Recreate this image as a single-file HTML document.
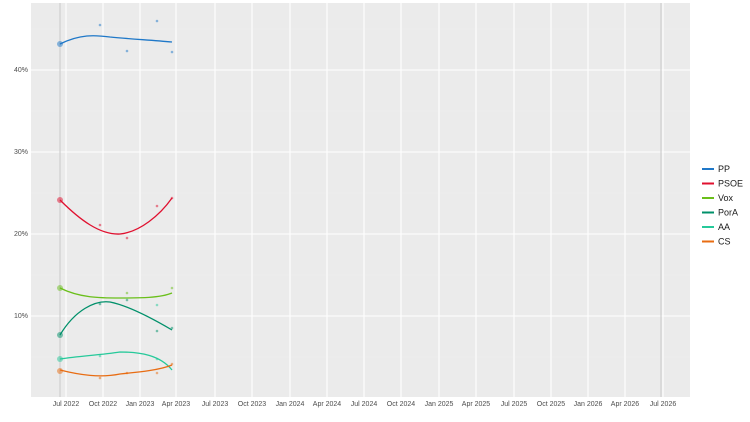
<!DOCTYPE html>
<html><head><style>
body{margin:0;background:#fff;width:750px;height:417px;overflow:hidden;font-family:"Liberation Sans",sans-serif}
</style></head><body>
<svg width="750" height="417" xmlns="http://www.w3.org/2000/svg" font-family="Liberation Sans, sans-serif">
<rect x="31" y="3" width="659" height="394" fill="#ebebeb"/>
<g stroke="#f2f2f2" stroke-width="0.6">
<line x1="31" x2="690" y1="111" y2="111"/><line x1="31" x2="690" y1="193" y2="193"/><line x1="31" x2="690" y1="275" y2="275"/><line x1="31" x2="690" y1="357" y2="357"/><line x1="31" x2="690" y1="29" y2="29"/>
</g>
<g stroke="#fff" stroke-width="1.1">
<line x1="31" x2="690" y1="70" y2="70"/><line x1="31" x2="690" y1="152" y2="152"/><line x1="31" x2="690" y1="234" y2="234"/><line x1="31" x2="690" y1="316" y2="316"/>
<line x1="66" x2="66" y1="3" y2="397"/><line x1="103" x2="103" y1="3" y2="397"/><line x1="140" x2="140" y1="3" y2="397"/><line x1="176" x2="176" y1="3" y2="397"/><line x1="215" x2="215" y1="3" y2="397"/><line x1="252" x2="252" y1="3" y2="397"/><line x1="290" x2="290" y1="3" y2="397"/><line x1="327" x2="327" y1="3" y2="397"/><line x1="364" x2="364" y1="3" y2="397"/><line x1="401" x2="401" y1="3" y2="397"/><line x1="439" x2="439" y1="3" y2="397"/><line x1="476" x2="476" y1="3" y2="397"/><line x1="514" x2="514" y1="3" y2="397"/><line x1="551" x2="551" y1="3" y2="397"/><line x1="588" x2="588" y1="3" y2="397"/><line x1="625" x2="625" y1="3" y2="397"/><line x1="663" x2="663" y1="3" y2="397"/>
</g>
<line x1="60" x2="60" y1="3" y2="397" stroke="#c8c8c8" stroke-width="1"/>
<line x1="661" x2="661" y1="3" y2="397" stroke="#c8c8c8" stroke-width="1"/>
<g font-size="7" fill="#4d4d4d" text-anchor="end">
<text x="28" y="72">40%</text><text x="28" y="154">30%</text><text x="28" y="236">20%</text><text x="28" y="318">10%</text>
</g>
<g font-size="7" fill="#4d4d4d" text-anchor="middle">
<text x="66" y="406">Jul 2022</text><text x="103" y="406">Oct 2022</text><text x="140" y="406">Jan 2023</text><text x="176" y="406">Apr 2023</text><text x="215" y="406">Jul 2023</text><text x="252" y="406">Oct 2023</text><text x="290" y="406">Jan 2024</text><text x="327" y="406">Apr 2024</text><text x="364" y="406">Jul 2024</text><text x="401" y="406">Oct 2024</text><text x="439" y="406">Jan 2025</text><text x="476" y="406">Apr 2025</text><text x="514" y="406">Jul 2025</text><text x="551" y="406">Oct 2025</text><text x="588" y="406">Jan 2026</text><text x="625" y="406">Apr 2026</text><text x="663" y="406">Jul 2026</text>
</g>
<g fill="none" stroke-width="1.3">
<path d="M60,44 C80,34 95,35 110,37 C130,39 150,40 172,42" stroke="#1f78c8"/>
<path d="M60,200 C80,220 100,235 120,234 C140,232 160,215 172,198" stroke="#e0102f"/>
<path d="M60,288 C80,298 100,298 120,298 C140,298 160,298 172,293" stroke="#6abf1a"/>
<path d="M60,335 C75,310 95,300 110,302 C130,306 155,320 172,330" stroke="#00906a"/>
<path d="M60,359 C80,356 100,355 120,352 C140,352 160,355 172,370" stroke="#26c99a"/>
<path d="M60,370 C80,375 100,378 120,374 C140,372 160,370 172,365" stroke="#e86c12"/>
</g>
<g opacity="0.5">
<circle cx="60" cy="44" r="3" fill="#1f78c8"/><circle cx="100" cy="25" r="1.3" fill="#1f78c8"/><circle cx="127" cy="51" r="1.3" fill="#1f78c8"/><circle cx="157" cy="21" r="1.3" fill="#1f78c8"/><circle cx="172" cy="52" r="1.3" fill="#1f78c8"/>
<circle cx="60" cy="200" r="3" fill="#e0102f"/><circle cx="100" cy="225" r="1.3" fill="#e0102f"/><circle cx="127" cy="238" r="1.3" fill="#e0102f"/><circle cx="157" cy="206" r="1.3" fill="#e0102f"/><circle cx="172" cy="198" r="1.3" fill="#e0102f"/>
<circle cx="60" cy="288" r="3" fill="#6abf1a"/><circle cx="127" cy="293" r="1.3" fill="#6abf1a"/><circle cx="172" cy="288" r="1.3" fill="#6abf1a"/>
<circle cx="60" cy="335" r="3" fill="#00906a"/><circle cx="100" cy="304" r="1.3" fill="#00906a"/><circle cx="127" cy="300" r="1.3" fill="#00906a"/><circle cx="157" cy="331" r="1.3" fill="#00906a"/><circle cx="172" cy="328" r="1.3" fill="#00906a"/>
<circle cx="60" cy="359" r="3" fill="#26c99a"/><circle cx="100" cy="356" r="1.3" fill="#26c99a"/><circle cx="157" cy="305" r="1.3" fill="#26c99a"/><circle cx="157" cy="359" r="1.3" fill="#26c99a"/>
<circle cx="60" cy="371" r="3" fill="#e86c12"/><circle cx="100" cy="378" r="1.3" fill="#e86c12"/><circle cx="127" cy="373" r="1.3" fill="#e86c12"/><circle cx="157" cy="373" r="1.3" fill="#e86c12"/><circle cx="172" cy="364" r="1.3" fill="#e86c12"/>
</g>
<g font-size="9" fill="#1a1a1a" stroke-width="2">
<line x1="702" x2="714" y1="169" y2="169" stroke="#1f78c8"/><text x="718" y="172">PP</text>
<line x1="702" x2="714" y1="183.5" y2="183.5" stroke="#e0102f"/><text x="718" y="186.5">PSOE</text>
<line x1="702" x2="714" y1="198" y2="198" stroke="#6abf1a"/><text x="718" y="201">Vox</text>
<line x1="702" x2="714" y1="212.5" y2="212.5" stroke="#00906a"/><text x="718" y="215.5">PorA</text>
<line x1="702" x2="714" y1="227" y2="227" stroke="#26c99a"/><text x="718" y="230">AA</text>
<line x1="702" x2="714" y1="241.5" y2="241.5" stroke="#e86c12"/><text x="718" y="244.5">CS</text>
</g>
</svg>
</body></html>
